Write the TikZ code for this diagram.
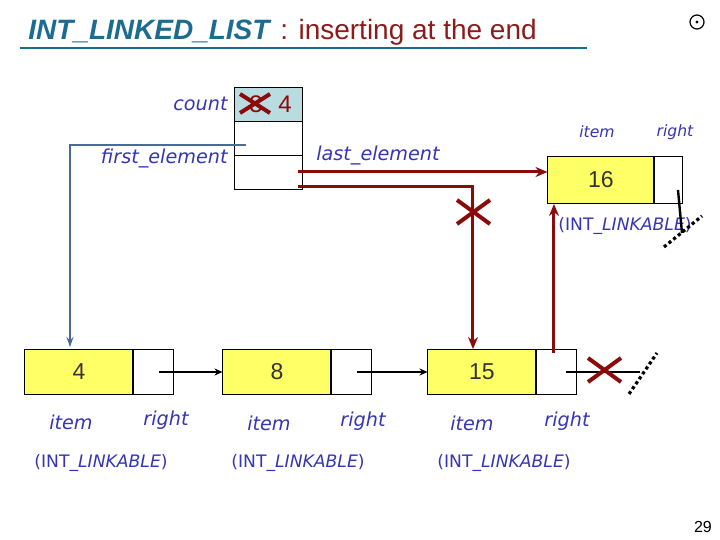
\documentclass[tikz,border=0pt]{standalone}
\usepackage{fontspec}
\setmainfont{Liberation Sans}
\newfontfamily\comicfont{DejaVu Sans}
\usepackage{tikz}
\usetikzlibrary{arrows.meta,positioning,calc}
\definecolor{titleteal}{HTML}{1C6C91}
\definecolor{titlered}{HTML}{8C1C1C}
\definecolor{linkred}{HTML}{8B0A0A}
\definecolor{labelblue}{HTML}{3535B5}
\definecolor{linkblue}{HTML}{4A6A9A}
\definecolor{cellyellow}{HTML}{FFFF66}
\definecolor{countcyan}{HTML}{B8DCE0}

\begin{document}
\begin{tikzpicture}[
    x=0.5pt, y=-0.5pt,
    >={Stealth[length=6pt, width=5pt]},
    cell/.style={draw=black, line width=0.5pt, inner sep=0pt, minimum height=22.5pt, font=\fontsize{11.5}{13}\selectfont, text=black!80},
    itemcell/.style={cell, fill=cellyellow, minimum width=54pt},
    rightcell/.style={cell, fill=white, minimum width=20pt},
    objcell/.style={draw=black, line width=0.5pt, fill=white, minimum width=34pt, minimum height=17pt, inner sep=0pt},
    field/.style={font=\comicfont\itshape\fontsize{9.6}{11}\selectfont, text=labelblue, inner sep=0pt},
    smallfield/.style={font=\comicfont\itshape\fontsize{7.8}{9}\selectfont, text=labelblue, inner sep=0pt},
    typename/.style={font=\comicfont\fontsize{8.6}{10}\selectfont, text=labelblue, inner sep=0pt},
    redlink/.style={draw=linkred, line width=1.5pt},
    blacklink/.style={draw=black, line width=0.8pt, -{Stealth[length=4pt, width=3.5pt]}},
    voidmark/.style={draw=black, line width=1.6pt, dash pattern=on 1.6pt off 1.4pt},
    crossmark/.style={draw=linkred, line width=2pt},
]
    \useasboundingbox (0,0) rectangle (720,540);

    % --- Title ---
    \node[anchor=base west, inner sep=0pt, text=titleteal, font=\bfseries\itshape\fontsize{14}{16}\selectfont] (title) at (28,40) {INT\_LINKED\_LIST};
    \node[anchor=base west, inner sep=0pt, text=titlered, font=\fontsize{14}{16}\selectfont] (subtitle) at (280,40) {: inserting at the end};
    \draw[titleteal, line width=0.6pt] (20,48) -- (587,48);
    \draw[black, line width=0.6pt] (697,22) circle (3.5pt);
    \fill[black] (697,22) circle (0.8pt);

    % --- List object ---
    \node[objcell, fill=countcyan] (c1) at (269,105) {};
    \node[objcell] (c2) at (269,139) {};
    \node[objcell] (c3) at (269,173) {};
    \node[text=linkred, font=\fontsize{12}{14}\selectfont, inner sep=0pt] (oldcount) at (256,104) {3};
    \node[text=linkred, font=\fontsize{12}{14}\selectfont, inner sep=0pt] (newcount) at (285,104) {4};
    \draw[crossmark] (240,94) -- (270,113) (240,113) -- (270,94);

    \node[field, anchor=east] (countlbl) at (228,104) {count};
    \node[field, anchor=east] (firstlbl) at (228,158) {first\_element};
    \node[field] (lastlbl) at (378,155) {last\_element};

    % --- Cells of the list ---
    \node[itemcell] (i4) at (79,372) {4};
    \node[rightcell, anchor=west] (r4) at (i4.east) {};
    \node[itemcell] (i8) at (277,372) {8};
    \node[rightcell, anchor=west] (r8) at (i8.east) {};
    \node[itemcell] (i15) at (482,372) {15};
    \node[rightcell, anchor=west] (r15) at (i15.east) {};

    \node[field] at (71,422) {item};
    \node[field] at (166,420) {right};
    \node[field] at (269,423) {item};
    \node[field] at (363,421) {right};
    \node[field] at (472,423) {item};
    \node[field] at (567,421) {right};
    \node[typename] at (101,463) {(INT\textit{\_LINKABLE})};
    \node[typename] at (298,463) {(INT\textit{\_LINKABLE})};
    \node[typename] at (504,463) {(INT\textit{\_LINKABLE})};

    % --- New cell ---
    \node[itemcell, minimum width=53pt, minimum height=23.5pt] (i16) at (601,180) {16};
    \node[rightcell, minimum width=14pt, minimum height=23.5pt, anchor=west] (r16) at (i16.east) {};
    \node[smallfield] at (597,132) {item};
    \node[smallfield] at (675,132) {right};
    \node[typename] (type16) at (625,226) {(INT\textit{\_LINKABLE})};

    % --- Links between cells ---
    \draw[blacklink] ([xshift=2.5pt]r4.center) -- (i8.west);
    \draw[blacklink] ([xshift=2.5pt]r8.center) -- (i15.west);

    % first_element
    \coordinate (firstptr) at ($(c2.west)+(12,6)$);
    \coordinate (firsttarget) at ($(i4.north)+(-9,-2)$);
    \draw[linkblue, line width=0.7pt, -{Stealth[length=5pt, width=3.5pt]}] (firstptr) -| (firsttarget);

    % last_element, old and new
    \coordinate (lastptr) at ($(c3.east)+(-5,-1)$);
    \draw[redlink, ->] (lastptr) -- (lastptr -| i16.west);
    \coordinate (oldptr) at ($(c3.east)+(-5,14)$);
    \coordinate (oldtarget) at ($(i15.north)+(-9,0)$);
    \draw[redlink, ->] (oldptr) -| (oldtarget);
    \draw[crossmark] (457,200) -- (490,224) (457,224) -- (490,200);

    % right of 15 now points to 16
    \coordinate (newptr) at ($(r15.center)+(-3,-19)$);
    \draw[redlink, ->] (newptr) -- (newptr |- i16.south);

    % --- Void references ---
    \draw[black, line width=1.2pt] ($(r16.center)+(9,10)$) -- ($(r16.center)+(13,53)$);
    \draw[voidmark] (664,247) -- (702,216);
    \draw[black, line width=1.4pt] ($(r15.center)+(9,0)$) -- ($(r15.center)+(83,0)$);
    \draw[voidmark] (629,394) -- (657,353);
    \draw[crossmark] (588,358) -- (621,382) (588,382) -- (621,358);

    % --- Page number ---
    \node[font=\fontsize{8}{10}\selectfont, inner sep=0pt] (page) at (703,527) {29};
\end{tikzpicture}
\end{document}
